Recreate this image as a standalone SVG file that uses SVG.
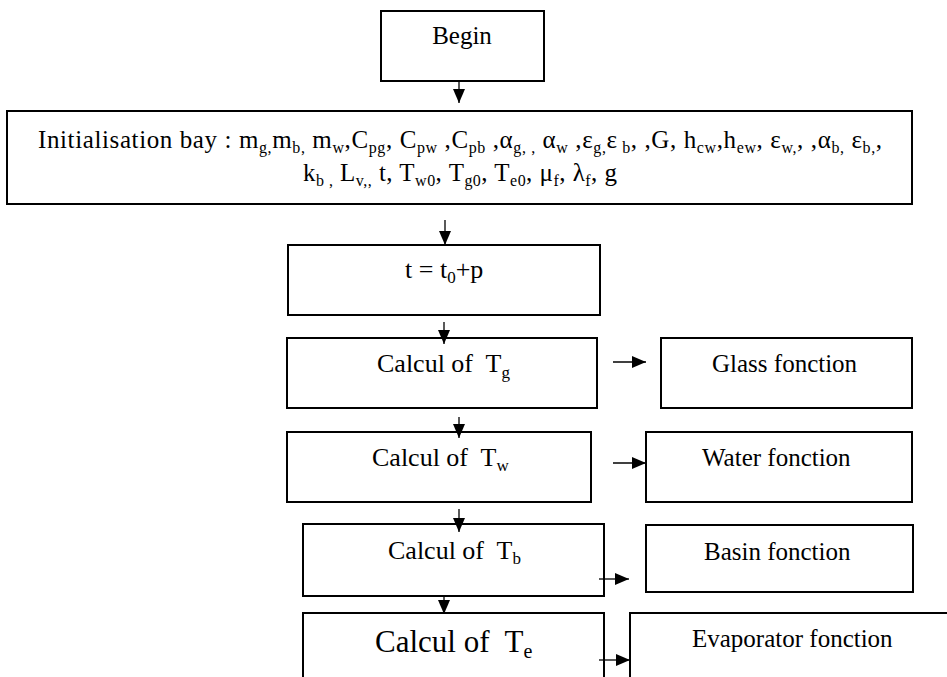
<svg xmlns="http://www.w3.org/2000/svg" width="947" height="677" viewBox="0 0 947 677">
<defs>
<style>
.box{fill:#fff;stroke:#000;stroke-width:2}
.t{font-family:"Liberation Serif","Times New Roman",serif;fill:#000}
.conn line{stroke:#000;stroke-width:1.3}
</style>
<marker id="ah" markerUnits="userSpaceOnUse" markerWidth="14" markerHeight="12" refX="14" refY="6" orient="auto">
<path d="M0,0 L14,6 L0,12 z" fill="#000"/>
</marker>
</defs>
<rect width="947" height="677" fill="#fff"/>

<g id="begin">
<rect class="box" x="381" y="11" width="163" height="70"/>
<text class="t" x="462" y="44" font-size="25" text-anchor="middle">Begin</text>
</g>

<g id="init">
<rect class="box" x="7" y="111" width="905" height="93"/>
<text class="t" x="460" y="148" font-size="25" text-anchor="middle" textLength="844" lengthAdjust="spacing">Initialisation bay : m<tspan font-size="16" dy="5">g,</tspan><tspan dy="-5">m</tspan><tspan font-size="16" dy="5">b,</tspan><tspan dy="-5"> m</tspan><tspan font-size="16" dy="5">w</tspan><tspan dy="-5">,C</tspan><tspan font-size="16" dy="5">pg</tspan><tspan dy="-5">, C</tspan><tspan font-size="16" dy="5">pw</tspan><tspan dy="-5"> ,C</tspan><tspan font-size="16" dy="5">pb</tspan><tspan dy="-5"> ,α</tspan><tspan font-size="16" dy="5">g, ,</tspan><tspan dy="-5"> α</tspan><tspan font-size="16" dy="5">w</tspan><tspan dy="-5"> ,ε</tspan><tspan font-size="16" dy="5">g,</tspan><tspan dy="-5">ε</tspan><tspan font-size="16" dy="5"> b</tspan><tspan dy="-5">, ,G, h</tspan><tspan font-size="16" dy="5">cw</tspan><tspan dy="-5">,h</tspan><tspan font-size="16" dy="5">ew</tspan><tspan dy="-5">, ε</tspan><tspan font-size="16" dy="5">w,</tspan><tspan dy="-5">, ,α</tspan><tspan font-size="16" dy="5">b,</tspan><tspan dy="-5"> ε</tspan><tspan font-size="16" dy="5">b,</tspan><tspan dy="-5">,</tspan></text>
<text class="t" x="460" y="181" font-size="25" text-anchor="middle" textLength="314" lengthAdjust="spacing">k<tspan font-size="16" dy="5">b ,</tspan><tspan dy="-5"> L</tspan><tspan font-size="16" dy="5">v,,</tspan><tspan dy="-5"> t, T</tspan><tspan font-size="16" dy="5">w0</tspan><tspan dy="-5">, T</tspan><tspan font-size="16" dy="5">g0</tspan><tspan dy="-5">, T</tspan><tspan font-size="16" dy="5">e0</tspan><tspan dy="-5">, μ</tspan><tspan font-size="16" dy="5">f</tspan><tspan dy="-5">, λ</tspan><tspan font-size="16" dy="5">f</tspan><tspan dy="-5">, g</tspan></text>
</g>

<g id="step">
<rect class="box" x="288" y="245" width="312" height="70"/>
<text class="t" x="405" y="278" font-size="26">t = t<tspan font-size="17" dy="5">0</tspan><tspan dy="-5">+p</tspan></text>
</g>

<g id="calc-tg">
<rect class="box" x="287" y="338" width="310" height="70"/>
<text class="t" x="377" y="372" font-size="26">Calcul of&#160; T<tspan font-size="17" dy="6">g</tspan></text>
</g>

<g id="calc-tw">
<rect class="box" x="287" y="432" width="304" height="70"/>
<text class="t" x="372" y="466" font-size="26">Calcul of&#160; T<tspan font-size="17" dy="5">w</tspan></text>
</g>

<g id="calc-tb">
<rect class="box" x="303" y="524" width="301" height="72"/>
<text class="t" x="388" y="559" font-size="26">Calcul of&#160; T<tspan font-size="17" dy="5">b</tspan></text>
</g>

<g id="calc-te">
<rect class="box" x="303" y="613" width="301" height="90"/>
<text class="t" x="375" y="652" font-size="31">Calcul of&#160; T<tspan font-size="20" dy="6">e</tspan></text>
</g>

<g id="glass">
<rect class="box" x="661" y="338" width="251" height="70"/>
<text class="t" x="712" y="372" font-size="25">Glass fonction</text>
</g>

<g id="water">
<rect class="box" x="646" y="432" width="266" height="70"/>
<text class="t" x="702" y="466" font-size="25">Water fonction</text>
</g>

<g id="basin">
<rect class="box" x="646" y="525" width="267" height="67"/>
<text class="t" x="704" y="560" font-size="25">Basin fonction</text>
</g>

<g id="evap">
<rect class="box" x="630" y="613" width="340" height="90"/>
<text class="t" x="692" y="647" font-size="25">Evaporator fonction</text>
</g>

<g id="connectors" class="conn">
<line x1="459" y1="81" x2="459" y2="103" marker-end="url(#ah)"/>
<line x1="445" y1="220" x2="445" y2="245" marker-end="url(#ah)"/>
<line x1="444" y1="322" x2="444" y2="344" marker-end="url(#ah)"/>
<line x1="459" y1="417" x2="459" y2="438" marker-end="url(#ah)"/>
<line x1="459" y1="509" x2="459" y2="532" marker-end="url(#ah)"/>
<line x1="444" y1="596" x2="444" y2="614" marker-end="url(#ah)"/>
<line x1="613" y1="362" x2="646" y2="362" marker-end="url(#ah)"/>
<line x1="613" y1="463" x2="646" y2="463" marker-end="url(#ah)"/>
<line x1="599" y1="579" x2="629" y2="579" marker-end="url(#ah)"/>
<line x1="599" y1="660" x2="630" y2="660" marker-end="url(#ah)"/>
</g>
</svg>
